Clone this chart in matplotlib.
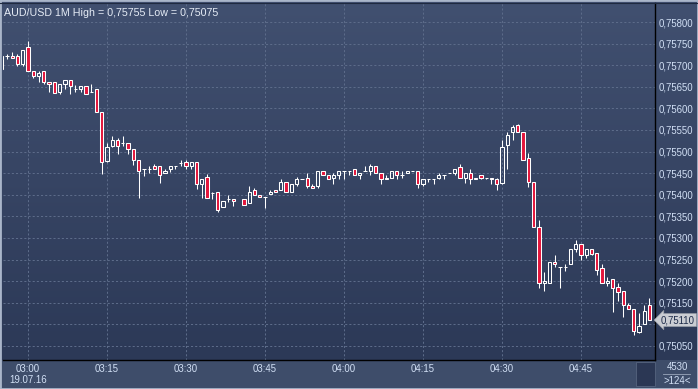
import numpy as np
import pandas as pd
import matplotlib
matplotlib.use('Agg')
import matplotlib.pyplot as plt
from matplotlib.colors import LinearSegmentedColormap
from matplotlib.patches import Rectangle
from matplotlib.lines import Line2D
from matplotlib.ticker import FuncFormatter

# one-minute bars, 02:55 .. 04:58 on 19.07.16 (no bar at 03:40)
times = pd.date_range('2016-07-19 02:55', periods=124, freq='min').drop(pd.Timestamp('2016-07-19 03:40'))

opens = [
    0.75691, 0.75721, 0.75721, 0.75721, 0.75703, 0.75741, 0.75687, 0.75674, 0.75687, 0.75660,
    0.75660, 0.75637, 0.75656, 0.75665, 0.75645, 0.75645, 0.75651, 0.75639, 0.75644, 0.75591,
    0.75478, 0.75514, 0.75526, 0.75519, 0.75520, 0.75505, 0.75480, 0.75459, 0.75459, 0.75467,
    0.75467, 0.75450, 0.75459, 0.75467, 0.75474, 0.75477, 0.75467, 0.75476, 0.75424, 0.75442,
    0.75405, 0.75406, 0.75371, 0.75390, 0.75390,
    0.75390, 0.75380, 0.75410, 0.75400, 0.75394, 0.75402, 0.75411, 0.75410, 0.75429,
    0.75406, 0.75424, 0.75436, 0.75440, 0.75420, 0.75420, 0.75454, 0.75445, 0.75440, 0.75445,
    0.75454, 0.75454, 0.75459, 0.75445, 0.75454, 0.75454, 0.75466, 0.75450, 0.75440, 0.75440,
    0.75454, 0.75445, 0.75450, 0.75454, 0.75454, 0.75424, 0.75436, 0.75436, 0.75440, 0.75445,
    0.75450, 0.75450, 0.75465, 0.75440, 0.75450, 0.75436, 0.75445, 0.75440, 0.75440, 0.75436,
    0.75428, 0.75515, 0.75545, 0.75561, 0.75545, 0.75484, 0.75430, 0.75325, 0.75195, 0.75195,
    0.75244, 0.75233, 0.75233, 0.75239, 0.75274, 0.75286, 0.75260, 0.75274, 0.75265, 0.75230,
    0.75195, 0.75204, 0.75187, 0.75178, 0.75144, 0.75135, 0.75083, 0.75100, 0.75145,
]
highs = [
    0.75722, 0.75727, 0.75731, 0.75727, 0.75736, 0.75755, 0.75687, 0.75687, 0.75687, 0.75660,
    0.75660, 0.75656, 0.75665, 0.75665, 0.75654, 0.75651, 0.75651, 0.75656, 0.75644, 0.75591,
    0.75520, 0.75536, 0.75531, 0.75536, 0.75520, 0.75505, 0.75480, 0.75459, 0.75467, 0.75471,
    0.75467, 0.75459, 0.75466, 0.75467, 0.75481, 0.75481, 0.75476, 0.75476, 0.75437, 0.75447,
    0.75407, 0.75406, 0.75385, 0.75400, 0.75390,
    0.75390, 0.75420, 0.75416, 0.75400, 0.75394, 0.75410, 0.75411, 0.75436, 0.75429,
    0.75424, 0.75441, 0.75436, 0.75450, 0.75424, 0.75454, 0.75454, 0.75445, 0.75451, 0.75454,
    0.75454, 0.75454, 0.75459, 0.75450, 0.75467, 0.75472, 0.75466, 0.75450, 0.75445, 0.75454,
    0.75454, 0.75454, 0.75454, 0.75454, 0.75454, 0.75436, 0.75436, 0.75436, 0.75451, 0.75445,
    0.75450, 0.75459, 0.75472, 0.75450, 0.75459, 0.75440, 0.75445, 0.75440, 0.75440, 0.75440,
    0.75527, 0.75545, 0.75562, 0.75565, 0.75545, 0.75497, 0.75430, 0.75341, 0.75221, 0.75244,
    0.75261, 0.75233, 0.75239, 0.75274, 0.75296, 0.75286, 0.75274, 0.75274, 0.75265, 0.75239,
    0.75210, 0.75204, 0.75195, 0.75178, 0.75149, 0.75135, 0.75126, 0.75145, 0.75162,
]
lows = [
    0.75691, 0.75714, 0.75716, 0.75699, 0.75699, 0.75687, 0.75670, 0.75660, 0.75656, 0.75639,
    0.75636, 0.75634, 0.75645, 0.75634, 0.75639, 0.75639, 0.75634, 0.75639, 0.75591, 0.75449,
    0.75475, 0.75510, 0.75495, 0.75514, 0.75495, 0.75469, 0.75393, 0.75444, 0.75450, 0.75459,
    0.75428, 0.75450, 0.75453, 0.75459, 0.75466, 0.75460, 0.75459, 0.75413, 0.75393, 0.75393,
    0.75390, 0.75359, 0.75371, 0.75384, 0.75374,
    0.75376, 0.75380, 0.75400, 0.75394, 0.75369, 0.75402, 0.75406, 0.75410, 0.75406,
    0.75406, 0.75420, 0.75436, 0.75415, 0.75415, 0.75415, 0.75445, 0.75436, 0.75424, 0.75436,
    0.75436, 0.75445, 0.75445, 0.75436, 0.75454, 0.75445, 0.75450, 0.75424, 0.75436, 0.75440,
    0.75436, 0.75440, 0.75450, 0.75454, 0.75415, 0.75420, 0.75430, 0.75424, 0.75436, 0.75436,
    0.75450, 0.75445, 0.75440, 0.75428, 0.75424, 0.75436, 0.75436, 0.75436, 0.75424, 0.75411,
    0.75425, 0.75459, 0.75527, 0.75545, 0.75480, 0.75419, 0.75325, 0.75185, 0.75178, 0.75195,
    0.75233, 0.75185, 0.75224, 0.75239, 0.75268, 0.75250, 0.75254, 0.75260, 0.75214, 0.75195,
    0.75188, 0.75129, 0.75154, 0.75118, 0.75135, 0.75075, 0.75079, 0.75100, 0.75110,
]
closes = [
    0.75722, 0.75721, 0.75716, 0.75703, 0.75736, 0.75687, 0.75674, 0.75682, 0.75662, 0.75656,
    0.75636, 0.75656, 0.75665, 0.75651, 0.75645, 0.75651, 0.75634, 0.75639, 0.75591, 0.75475,
    0.75510, 0.75526, 0.75514, 0.75519, 0.75505, 0.75480, 0.75455, 0.75459, 0.75459, 0.75459,
    0.75446, 0.75455, 0.75466, 0.75467, 0.75474, 0.75467, 0.75476, 0.75424, 0.75437, 0.75393,
    0.75405, 0.75364, 0.75385, 0.75390, 0.75385,
    0.75376, 0.75406, 0.75400, 0.75394, 0.75394, 0.75406, 0.75406, 0.75429, 0.75406,
    0.75424, 0.75436, 0.75436, 0.75420, 0.75415, 0.75454, 0.75445, 0.75436, 0.75445, 0.75454,
    0.75454, 0.75454, 0.75445, 0.75450, 0.75454, 0.75466, 0.75450, 0.75436, 0.75436, 0.75454,
    0.75445, 0.75445, 0.75454, 0.75454, 0.75425, 0.75436, 0.75436, 0.75436, 0.75445, 0.75445,
    0.75450, 0.75459, 0.75440, 0.75450, 0.75436, 0.75440, 0.75440, 0.75440, 0.75436, 0.75425,
    0.75510, 0.75539, 0.75558, 0.75545, 0.75480, 0.75430, 0.75325, 0.75195, 0.75200, 0.75244,
    0.75239, 0.75233, 0.75233, 0.75274, 0.75286, 0.75260, 0.75274, 0.75264, 0.75225, 0.75195,
    0.75200, 0.75185, 0.75174, 0.75144, 0.75135, 0.75085, 0.75096, 0.75130, 0.75110,
]

time_ticks = ['03:00', '03:15', '03:30', '03:45', '04:00', '04:15', '04:30', '04:45']
date_label = '19.07.16'
price_ticks = [0.75050, 0.75100, 0.75150, 0.75200, 0.75250, 0.75300, 0.75350, 0.75400,
               0.75450, 0.75500, 0.75550, 0.75600, 0.75650, 0.75700, 0.75750, 0.75800]
volume_text = '4530'
bars_text = '>124<'

W, H = 698, 389
BG_TOP = '#415070'
BG_BOT = '#2c3957'
STRIP = '#3e4d6a'
GRID = '#5c6b89'
TXT = '#d2e0f5'
RED = '#e3163c'
FONT = 'Liberation Sans'
FS = 6.9


def fmt_price(v, pos=None):
    return f'{v:.5f}'.replace('.', ',')


def main():
    plt.rcParams['font.family'] = [FONT, 'DejaVu Sans']
    o = np.array(opens); h = np.array(highs); l = np.array(lows); c = np.array(closes)
    t0 = pd.Timestamp('2016-07-19 03:00')
    x = (times - t0).total_seconds().values / 60.0

    fig = plt.figure(figsize=(W / 100, H / 100), dpi=100, facecolor=STRIP)

    # gradient behind plot and price scale
    bg = fig.add_axes([0, 29 / H, 1, 1 - 29 / H], zorder=0)
    cmap = LinearSegmentedColormap.from_list('bg', [BG_BOT, BG_TOP])
    bg.imshow(np.linspace(1, 0, 256).reshape(-1, 1), aspect='auto', cmap=cmap,
              extent=[0, 1, 0, 1], interpolation='bicubic')
    bg.axis('off')

    ax = fig.add_axes([3 / W, 29 / H, 652 / W, 357 / H], zorder=1)
    ax.patch.set_alpha(0)

    top = np.maximum(o, c)
    bot = np.minimum(o, c)
    up = c > o
    lw = 0.75
    ax.vlines(x, top, h, color='white', lw=lw, zorder=3)
    ax.vlines(x, l, bot, color='white', lw=lw, zorder=3)
    fills = np.where(up | (c == o), 'none', RED)
    ax.bar(x, top - bot, bottom=bot, width=0.62, color=fills,
           edgecolor='white', linewidth=lw, zorder=4)

    ax.set_xlim(-4.75, 119.05)
    ax.set_ylim(0.750175, 0.75844)

    tick_pos = [(pd.Timestamp('2016-07-19 ' + s) - t0).total_seconds() / 60 for s in time_ticks]
    ax.set_xticks(tick_pos)
    labels = list(time_ticks)
    labels[0] = labels[0] + '\n' + date_label
    ax.set_xticklabels(labels, va='top', linespacing=1.15)

    # the last-price box covers the scale label right under it
    last = c[-1]
    ax.set_yticks(price_ticks)
    ax.yaxis.set_major_formatter(FuncFormatter(
        lambda v, pos: '' if abs(v - last) < 0.00015 else fmt_price(v)))
    ax.yaxis.tick_right()
    ax.tick_params(axis='both', length=0, colors=TXT, labelsize=FS)
    ax.tick_params(axis='x', pad=3)
    ax.tick_params(axis='y', pad=2.3)

    ax.grid(True, color=GRID, lw=0.75, linestyle=(0, (2, 2)))
    ax.set_axisbelow(True)
    for s in ['left', 'top']:
        ax.spines[s].set_visible(False)
    for s in ['right', 'bottom']:
        ax.spines[s].set_color('black')
        ax.spines[s].set_linewidth(1.0)

    # header
    ax.text(0.002, 0.987, f'AUD/USD 1M High = {fmt_price(max(h))} Low = {fmt_price(min(l))}',
            transform=ax.transAxes, ha='left', va='top', color='#e6ecf6', fontsize=7.7)

    # last price marker
    ax.annotate(fmt_price(last), xy=(1.0, last), xycoords=('axes fraction', 'data'),
                xytext=(4.3, 0), textcoords='offset points', ha='left', va='center',
                fontsize=FS, color='#1c2a48', annotation_clip=False, zorder=10,
                bbox=dict(boxstyle='larrow,pad=0.15', fc='#c9ccd2', ec='#9aa0aa', lw=0.5))

    # price scale separator down through the bottom strip
    fig.add_artist(Line2D([655 / W, 655 / W], [3 / H, 1 - 386 / H], color='black', lw=1.0))
    # scroll box and bar counter
    fig.add_artist(Rectangle((636 / W, 1 - 386 / H), 19 / W, 24 / H, facecolor='#2b3754',
                             edgecolor='#56647f', lw=0.6))
    fig.add_artist(Line2D([663 / W, 690 / W], [1 - 374 / H, 1 - 374 / H], color='#9aa6bb', lw=0.6))
    fig.text(677 / W, 1 - 367 / H, volume_text, ha='center', va='center', color=TXT, fontsize=FS)
    fig.text(677 / W, 1 - 381 / H, bars_text, ha='center', va='center', color=TXT, fontsize=FS)

    # frame
    fig.add_artist(Rectangle((0, 0), 1, 1, facecolor='none', edgecolor='#aab6ca', lw=2.0,
                             transform=fig.transFigure))
    fig.add_artist(Line2D([0, 1], [1 - 2.5 / H, 1 - 2.5 / H], color='#1f2a40', lw=0.8))

    fig.savefig('out.png', dpi=100, facecolor=fig.get_facecolor())


if __name__ == '__main__':
    main()
